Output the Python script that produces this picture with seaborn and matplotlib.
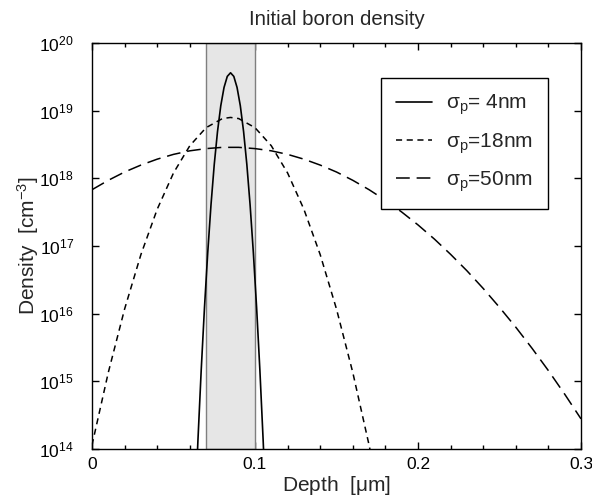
import numpy as np
import pandas as pd
import matplotlib
matplotlib.use("Agg")
import matplotlib.pyplot as plt
import seaborn as sns
from matplotlib.ticker import MultipleLocator, LogLocator, NullLocator, FuncFormatter

# ---- data ----
depth_4nm = [0.063, 0.065, 0.067, 0.069, 0.071, 0.073, 0.075, 0.077, 0.079, 0.081, 0.083,
             0.085, 0.087, 0.089, 0.091, 0.093, 0.095, 0.097, 0.099, 0.101, 0.103, 0.105, 0.107]
dens_4nm = [9.8e12, 1.35e14, 1.46e15, 1.22e16, 7.94e16, 4.04e17, 1.60e18, 4.91e18, 1.18e19,
            2.20e19, 3.21e19, 3.63e19, 3.21e19, 2.20e19, 1.18e19, 4.91e18, 1.60e18, 4.04e17,
            7.94e16, 1.22e16, 1.46e15, 1.35e14, 9.8e12]

depth_18nm = [0.0, 0.01, 0.02, 0.03, 0.04, 0.05, 0.06, 0.07, 0.08, 0.085, 0.09, 0.10,
              0.11, 0.12, 0.13, 0.14, 0.15, 0.16, 0.17, 0.175]
dens_18nm = [1.14e14, 1.35e15, 1.17e16, 7.46e16, 3.49e17, 1.20e18, 3.03e18, 5.61e18, 7.64e18,
             7.94e18, 7.64e18, 5.61e18, 3.03e18, 1.20e18, 3.49e17, 7.46e16, 1.17e16, 1.35e15,
             1.14e14, 2.9e13]

depth_50nm = [0.0, 0.01, 0.02, 0.03, 0.04, 0.05, 0.06, 0.07, 0.08, 0.09, 0.10, 0.11, 0.12,
              0.13, 0.14, 0.15, 0.16, 0.17, 0.18, 0.19, 0.20, 0.21, 0.22, 0.23, 0.24, 0.25,
              0.26, 0.27, 0.28, 0.29, 0.30]
dens_50nm = [6.79e17, 9.35e17, 1.24e18, 1.57e18, 1.92e18, 2.26e18, 2.55e18, 2.75e18, 2.87e18,
             2.87e18, 2.75e18, 2.55e18, 2.26e18, 1.92e18, 1.57e18, 1.24e18, 9.35e17, 6.79e17,
             4.74e17, 3.18e17, 2.05e17, 1.27e17, 7.53e16, 4.31e16, 2.36e16, 1.24e16, 6.31e15,
             3.07e15, 1.44e15, 6.46e14, 2.79e14]

labels = [r"$\mathregular{\sigma_p}$= 4nm", r"$\mathregular{\sigma_p}$=18nm", r"$\mathregular{\sigma_p}$=50nm"]
implant_window = [0.07, 0.10]

# ---- style ----
sns.set_style("ticks")
plt.rcParams["font.family"] = ["Liberation Sans", "DejaVu Sans"]
plt.rcParams["mathtext.fontset"] = "custom"
plt.rcParams["mathtext.rm"] = "Liberation Sans"
plt.rcParams["mathtext.it"] = "Liberation Sans:italic"
plt.rcParams["mathtext.sf"] = "Liberation Sans"

fig = plt.figure(figsize=(5.92, 5.0), dpi=100)
ax = fig.add_axes([0.1554, 0.102, 0.826, 0.812])

ax.axvspan(implant_window[0], implant_window[1], facecolor="#e6e6e6",
           edgecolor="#7f7f7f", linewidth=1.0, zorder=1)

df1 = pd.DataFrame({"x": depth_4nm, "y": dens_4nm})
df2 = pd.DataFrame({"x": depth_18nm, "y": dens_18nm})
df3 = pd.DataFrame({"x": depth_50nm, "y": dens_50nm})

sns.lineplot(data=df1, x="x", y="y", ax=ax, color="black", lw=1.2, label=labels[0],
             sort=False, zorder=3)
sns.lineplot(data=df2, x="x", y="y", ax=ax, color="black", lw=1.1, label=labels[1],
             sort=False, zorder=3)
sns.lineplot(data=df3, x="x", y="y", ax=ax, color="black", lw=1.1, label=labels[2],
             sort=False, zorder=3)
lines = ax.get_lines()
lines[1].set_dashes([4, 3])
lines[2].set_dashes([9, 4.5])

ax.set_yscale("log")
ax.set_xlim(0, 0.3)
ax.set_ylim(1e14, 1e20)

ax.xaxis.set_major_locator(MultipleLocator(0.1))
ax.xaxis.set_minor_locator(MultipleLocator(0.02))
ax.yaxis.set_major_locator(LogLocator(base=10, numticks=10))
ax.yaxis.set_minor_locator(NullLocator())
ax.xaxis.set_major_formatter(FuncFormatter(lambda v, p: "0" if abs(v) < 1e-9 else f"{v:g}"))

ax.tick_params(which="both", direction="in", top=True, right=True, colors="black",
               labelsize=12.5, width=1.0)
ax.tick_params(which="major", length=5)
ax.tick_params(which="minor", length=3)
ax.tick_params(axis="x", which="major", pad=6)
ax.tick_params(axis="y", which="major", pad=13)
for s in ax.spines.values():
    s.set_color("black")
    s.set_linewidth(1.0)

ax.set_xlabel(r"Depth  [$\mathregular{\mu}$m]", fontsize=15, labelpad=1)
ax.set_ylabel(r"Density  [cm$^{-3}$]", fontsize=15, labelpad=-1)
ax.set_title("Initial boron density", fontsize=14.7, pad=13)

leg = ax.legend(loc="upper right", bbox_to_anchor=(0.932, 0.914), frameon=True,
                fancybox=False, shadow=False, edgecolor="black", framealpha=1,
                fontsize=15, handlelength=1.75, labelspacing=0.66, borderpad=0.72,
                handletextpad=0.65, borderaxespad=0)
leg.get_frame().set_linewidth(1.0)

fig.savefig("out.png", dpi=100)
